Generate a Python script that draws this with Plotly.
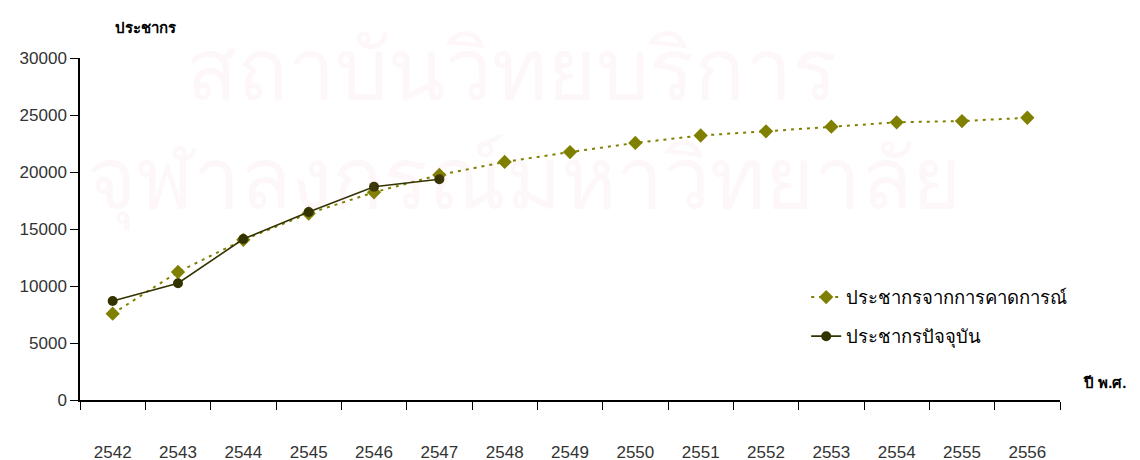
import plotly.graph_objects as go

years = ["2542", "2543", "2544", "2545", "2546", "2547", "2548", "2549",
         "2550", "2551", "2552", "2553", "2554", "2555", "2556"]
forecast = [7570, 11230, 14050, 16360, 18220, 19740, 20880, 21750,
            22550, 23200, 23570, 23980, 24360, 24470, 24760]
actual_years = ["2542", "2543", "2544", "2545", "2546", "2547"]
actual = [8680, 10240, 14120, 16490, 18710, 19360]

name_forecast = "ประชากรจากการคาดการณ์"
name_actual = "ประชากรปัจจุบัน"
y_title = "ประชากร"
x_title = "ปี พ.ศ."
wm1 = "สถาบันวิทยบริการ"
wm2 = "จุฬาลงกรณ์มหาวิทยาลัย"

font_main = "Liberation Sans, Arial, sans-serif"
font_thai = "Tahoma, Liberation Sans, DejaVu Sans, sans-serif"

fig = go.Figure()
fig.add_trace(go.Scatter(
    x=years, y=forecast, name=name_forecast, mode="lines+markers",
    line=dict(color="#808000", width=2, dash="3px,5px"),
    marker=dict(symbol="diamond", size=11, color="#808000"),
    legendgroup="a",
))
fig.add_trace(go.Scatter(
    x=actual_years, y=actual, name=name_actual, mode="lines+markers",
    line=dict(color="#333300", width=1.6),
    marker=dict(symbol="circle", size=10, color="#333300"),
    legendgroup="b",
))

wm_color = "rgba(215,120,170,0.06)"
fig.add_annotation(text=wm1, xref="paper", yref="paper", x=0.44, y=0.965,
                   showarrow=False, font=dict(family=font_thai, size=84, color=wm_color),
                   xanchor="center", yanchor="middle")
fig.add_annotation(text=wm2, xref="paper", yref="paper", x=0.453, y=0.64,
                   showarrow=False, font=dict(family=font_thai, size=84, color=wm_color),
                   xanchor="center", yanchor="middle")

fig.add_annotation(text="<b>" + y_title + "</b>", xref="paper", yref="paper",
                   x=0.034, y=1.088, xanchor="left", yanchor="middle", showarrow=False,
                   font=dict(family=font_thai, size=15, color="#000000"))
fig.add_annotation(text="<b>" + x_title + "</b>", xref="paper", yref="paper",
                   x=1.021, y=0.05, xanchor="left", yanchor="middle", showarrow=False,
                   font=dict(family=font_thai, size=15, color="#000000"))

fig.update_layout(
    width=1132, height=452,
    margin=dict(l=72, r=80, t=50, b=60, autoexpand=False),
    plot_bgcolor="white", paper_bgcolor="white",
    font=dict(family=font_main, size=17, color="#333333"),
    showlegend=True,
    legend=dict(x=0.741, y=0.355, xanchor="left", yanchor="top",
                bgcolor="rgba(0,0,0,0)", traceorder="grouped", tracegroupgap=12,
                font=dict(family=font_thai, size=18.5, color="#000000")),
    xaxis=dict(type="category", range=[-0.5, 14.5], showline=True, linecolor="#000000",
               linewidth=1.5, ticks="outside", ticklen=8, tickcolor="#000000",
               tickson="boundaries", showgrid=False, zeroline=False, automargin=False,
               ticklabelstandoff=36, tickfont=dict(size=17, color="#333333")),
    yaxis=dict(range=[0, 30000], dtick=5000, tickformat="d", showline=True,
               linecolor="#000000", automargin=False,
               linewidth=1.5, ticks="outside", ticklen=8, tickcolor="#000000",
               showgrid=False, zeroline=False, tickfont=dict(size=17, color="#333333")),
)

fig.write_html("out.html")
